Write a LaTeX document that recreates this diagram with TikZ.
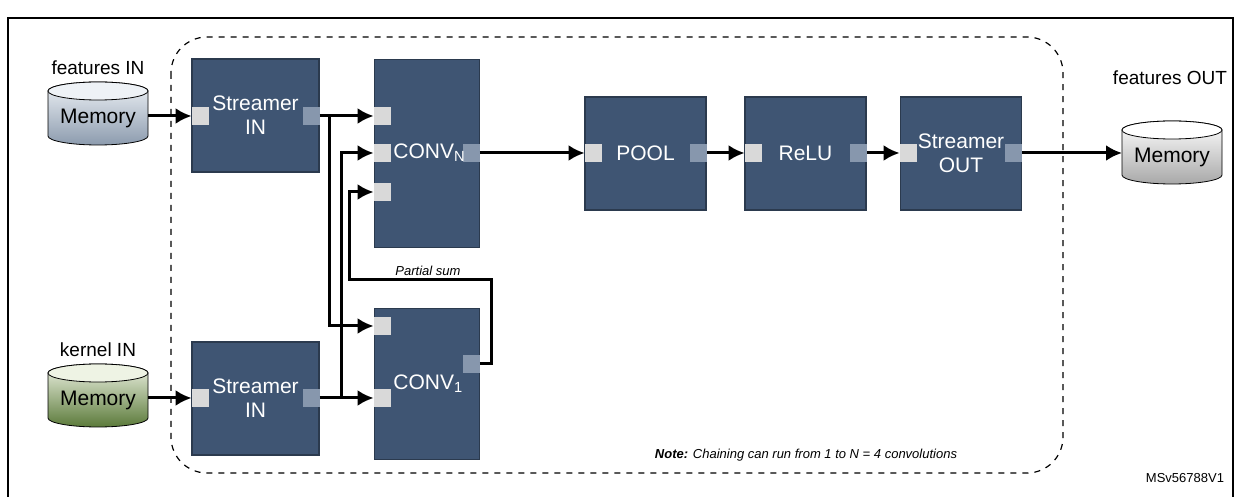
\documentclass[tikz,border=0pt]{standalone}
\usepackage{fontspec}
\setmainfont{Liberation Sans}
\usetikzlibrary{arrows.meta}
\definecolor{boxc}{HTML}{3F5573}
\definecolor{boxb}{HTML}{2B3A4E}
\definecolor{pin}{HTML}{D9D9D9}
\definecolor{pout}{HTML}{8797AD}
\definecolor{m1a}{HTML}{EEF2F6}\definecolor{m1b}{HTML}{8C9BAE}
\definecolor{m2a}{HTML}{EEF3E4}\definecolor{m2b}{HTML}{5B7A3A}
\definecolor{m3a}{HTML}{FFFFFF}\definecolor{m3b}{HTML}{A8A8A8}
\begin{document}
\begin{tikzpicture}[x=0.5pt,y=-0.5pt,
 blk/.style={draw=boxb,fill=boxc,line width=0.6pt,text=white,align=center,font=\fontsize{10.5}{12}\selectfont,inner sep=0pt},
 pi/.style={fill=pin,minimum width=8.5pt,minimum height=9pt,inner sep=0pt},
 po/.style={fill=pout,minimum width=8.5pt,minimum height=9pt,inner sep=0pt},
 con/.style={line width=1.5pt,-{Latex[length=8pt,width=8pt]}},
 lab/.style={font=\fontsize{9.5}{11}\selectfont},
 pics/mem/.style n args={3}{code={
   \shade[top color=#1,bottom color=#2,draw=black,line width=0.4pt]
     (-50,0) -- (-50,45) arc[start angle=180,end angle=360,x radius=50,y radius=-9] -- (50,0) arc[start angle=0,end angle=180,x radius=50,y radius=-9] -- cycle;
   \draw[line width=0.4pt,fill=#1] (0,0) ellipse[x radius=50,y radius=9];
   \node[font=\fontsize{10.5}{12}\selectfont] (#3) at (0,27) {Memory};
 }}]
\useasboundingbox (0,0) rectangle (1238,497);
\draw[line width=1pt] (8,497) -- (8,18) -- (1233,18) -- (1233,497);
\draw[dashed,rounded corners=18pt,line width=0.6pt] (171,37) rectangle (1063,473);
% memories
\node[lab] (fin) at (98,68) {features IN};
\pic at (98,91) {mem={m1a}{m1b}{m1}};
\node[lab] (kin) at (98,350) {kernel IN};
\pic at (98,373) {mem={m2a}{m2b}{m2}};
\node[lab] (fout) at (1170,78) {features OUT};
\pic at (1172,130) {mem={m3a}{m3b}{m3}};
% blocks
\node[blk,minimum width=63.5pt,minimum height=56.5pt] (s1) at (255.5,115.5) {Streamer\\IN};
\node[blk,minimum width=63.5pt,minimum height=56.5pt] (s2) at (255.5,398.5) {Streamer\\IN};
\node[blk,minimum width=52.5pt,minimum height=94pt,anchor=north west] (cn) at (374,59) {};
\node[blk,minimum width=52.5pt,minimum height=75.5pt,anchor=north west] (c1) at (374,308) {};
\node[blk,minimum width=60.5pt,minimum height=56.5pt] (pool) at (645.5,153.5) {POOL};
\node[blk,minimum width=60.5pt,minimum height=56.5pt] (relu) at (805.5,153.5) {ReLU};
\node[blk,minimum width=60.5pt,minimum height=56.5pt] (so) at (961,153.5) {Streamer\\OUT};
% ports
\node[pi] (s1i) at (200.5,116) {}; \node[po] (s1o) at (311,116) {};
\node[pi] (s2i) at (200.5,398) {}; \node[po] (s2o) at (311,398) {};
\node[pi] (cn1) at (382.5,116) {}; \node[pi] (cn2) at (382.5,153) {}; \node[pi] (cn3) at (382.5,192) {};
\node[po] (cno) at (471,153) {};
\node[pi] (c11) at (382.5,326) {}; \node[pi] (c12) at (382.5,398) {};
\node[po] (c1o) at (471,364) {};
\node[pi] (pi1) at (593.5,153) {}; \node[po] (po1) at (698,153) {};
\node[pi] (pi2) at (753.5,153) {}; \node[po] (po2) at (858,153) {};
\node[pi] (pi3) at (908.5,153) {}; \node[po] (po3) at (1013,153) {};
\node[text=white,font=\fontsize{10.5}{12}\selectfont,anchor=west,inner sep=0pt] (cnt) at (393,153) {CONV\textsubscript{N}};
\node[text=white,font=\fontsize{10.5}{12}\selectfont,anchor=west,inner sep=0pt] (c1t) at (393,384) {CONV\textsubscript{1}};
% connectors
\coordinate (m1e) at (148,116); \coordinate (m2e) at (148,398); \coordinate (m3w) at (1122,153);
\draw[con] (m1e) -- (s1i.west);
\draw[con] (m2e) -- (s2i.west);
\draw[con] (s1o.east) -- (cn1.west);
\draw[con] (s1o.east) -| (329,326) -- (c11.west);
\draw[con] (s2o.east) -- (c12.west);
\draw[con] (s2o.east) -| (341,153) -- (cn2.west);
\draw[con] (c1o.east) -| (491,280) -| (349,192) -- (cn3.west);
\node[font=\itshape\fontsize{6.5}{8}\selectfont] (ps) at (428,271) {Partial sum};
\draw[con] (cno.east) -- (pi1.west);
\draw[con] (po1.east) -- (pi2.west);
\draw[con] (po2.east) -- (pi3.west);
\draw[con] (po3.east) -- (m3w);
\node[font=\itshape\fontsize{6.5}{8}\selectfont] (note) at (806,455) {\textbf{Note:} Chaining can run from 1 to N = 4 convolutions};
\node[font=\fontsize{6.5}{8}\selectfont] (ms) at (1185,478) {MSv56788V1};
\end{tikzpicture}
\end{document}
